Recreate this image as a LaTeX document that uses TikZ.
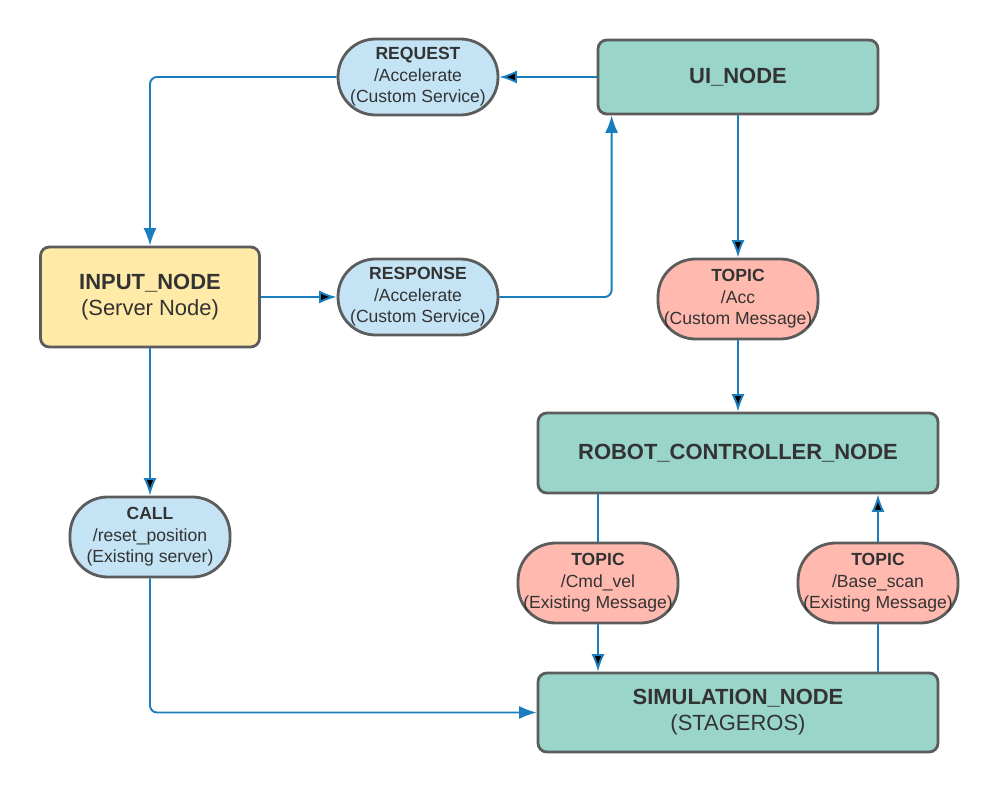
\documentclass[tikz,border=0pt]{standalone}
\usepackage{fontspec}
\setmainfont{Liberation Sans}
\usepackage{tikz}
\usetikzlibrary{arrows.meta}
\definecolor{tealbox}{HTML}{9AD5CA}
\definecolor{yellowbox}{HTML}{FFEAA7}
\definecolor{bluepill}{HTML}{C4E4F6}
\definecolor{redpill}{HTML}{FFB9AE}
\definecolor{bordergray}{HTML}{5C5C5C}
\definecolor{textgray}{HTML}{333333}
\definecolor{flowblue}{HTML}{1A7DBE}

\begin{document}
\begin{tikzpicture}[x=0.02cm, y=-0.02cm,
  box/.style={draw=bordergray, line width=1.6pt, rounded corners=5pt, align=center,
    text=textgray, inner sep=0pt, font=\fontsize{12.5}{14.8}\selectfont},
  pill/.style={draw=bordergray, line width=1.6pt, rounded corners=0.75cm, align=center,
    text=textgray, inner sep=0pt, minimum width=3.2cm, font=\fontsize{10}{12.2}\selectfont},
  flow/.style={draw=flowblue, line width=1.1pt,
    -{Latex[length=10pt,width=7.5pt,sharp]}},
  turnflow/.style={flow, rounded corners=4pt},
  link/.style={draw=flowblue, line width=1.1pt}]
 \useasboundingbox (0,0) rectangle (998,794);

 % main nodes
 \node[box, fill=tealbox, minimum width=5.6cm, minimum height=1.48cm] (ui) at (738,77) {\textbf{UI\_NODE}};
 \node[box, fill=yellowbox, minimum width=4.38cm, minimum height=2cm] (input) at (150,297)
   {\textbf{INPUT\_NODE}\\(Server Node)};
 \node[box, fill=tealbox, minimum width=8cm, minimum height=1.6cm] (robot) at (738,453)
   {\textbf{ROBOT\_CONTROLLER\_NODE}};
 \node[box, fill=tealbox, minimum width=8cm, minimum height=1.58cm] (sim) at (738,712.5)
   {\textbf{SIMULATION\_NODE}\\(STAGEROS)};

 % services, topics and calls
 \node[pill, fill=bluepill, minimum height=1.52cm] (req) at (418,77)
   {\textbf{REQUEST}\\/Accelerate\\(Custom Service)};
 \node[pill, fill=bluepill, minimum height=1.52cm] (resp) at (418,297)
   {\textbf{RESPONSE}\\/Accelerate\\(Custom Service)};
 \node[pill, fill=redpill, minimum height=1.6cm] (acc) at (738,299)
   {\textbf{TOPIC}\\/Acc\\(Custom Message)};
 \node[pill, fill=bluepill, minimum height=1.6cm] (call) at (150,537)
   {\textbf{CALL}\\/reset\_position\\(Existing server)};
 \node[pill, fill=redpill, minimum height=1.6cm] (cmd) at (598,583)
   {\textbf{TOPIC}\\/Cmd\_vel\\(Existing Message)};
 \node[pill, fill=redpill, minimum height=1.6cm] (scan) at (878,583)
   {\textbf{TOPIC}\\/Base\_scan\\(Existing Message)};

 \path[flow]
  (ui) edge (req)
  (input) edge (resp)
  (ui) edge (acc)
  (acc) edge (robot)
  (input) edge (call)
  (cmd) edge (cmd |- sim.north)
  (scan) edge (scan |- robot.south)
  ;
 \draw[turnflow] (req.west) -| (input.north);
 \draw[turnflow] (resp.east) -| ([xshift=0.3cm]ui.south west);
 \draw[turnflow] (call.south) |- (sim.west);
 \draw[link] (robot.south -| cmd.north) -- (cmd.north);
 \draw[link] (sim.north -| scan.south) -- (scan.south);
\end{tikzpicture}
\end{document}
